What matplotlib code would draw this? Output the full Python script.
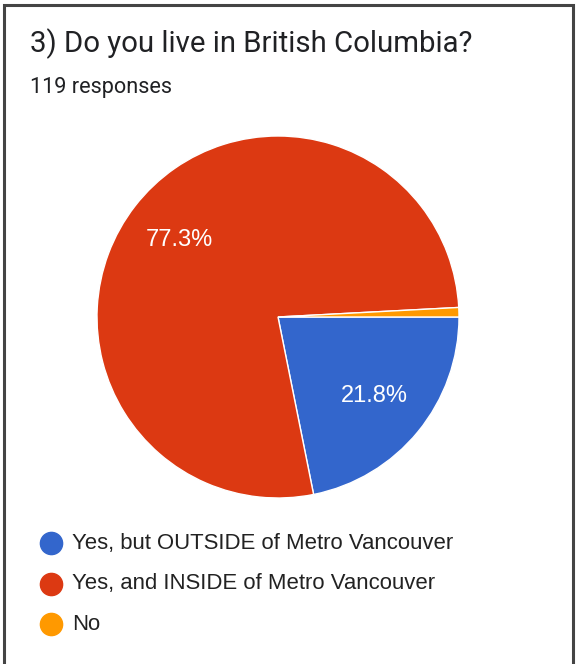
import matplotlib.pyplot as plt
from matplotlib.lines import Line2D
from matplotlib.patches import Rectangle

# data
labels = ['Yes, but OUTSIDE of Metro Vancouver', 'Yes, and INSIDE of Metro Vancouver', 'No']
counts = [26, 92, 1]
colors = ['#3366cc', '#dc3912', '#ff9900']

W, H = 577, 664
fig = plt.figure(figsize=(W / 100, H / 100), dpi=100)
fig.patch.set_facecolor('white')

# frame around the card
fig.add_artist(Rectangle((4 / W, -0.01), 569 / W, 1 - 5 / H + 0.01, transform=fig.transFigure,
                         fill=False, edgecolor='#444444', linewidth=2.2))

fig.text(30 / W, 1 - 44 / H, '3) Do you live in British Columbia?', fontsize=21.2,
         family='Roboto', color='#202124', va='center')
fig.text(30 / W, 1 - 87 / H, '119 responses', fontsize=15.6, family='Roboto',
         color='#202124', va='center')

# pie axes, centre approx (278, 317) px, radius 181 px
cx, cy, r = 278, 317, 181
ax = fig.add_axes([(cx - r) / W, (H - cy - r) / H, 2 * r / W, 2 * r / H])


def pct(p):
    return '%.1f%%' % p if p > 5 else ''


wedges, texts, autotexts = ax.pie(counts, colors=colors, startangle=0, counterclock=False,
                                  autopct=pct, pctdistance=0.69,
                                  wedgeprops=dict(edgecolor='white', linewidth=1),
                                  textprops=dict(color='white', fontsize=17, family='Liberation Sans'))
ax.set_xlim(-1, 1)
ax.set_ylim(-1, 1)
ax.set_aspect('equal')
ax.axis('off')

# legend
for i, (lab, col) in enumerate(zip(labels, colors)):
    y = 1 - (543 + 40.5 * i) / H
    fig.add_artist(Line2D([51 / W], [y], marker='o', markersize=16, color=col,
                          linestyle='none', transform=fig.transFigure))
    fig.text(72 / W, y, lab, fontsize=15.9, family='Liberation Sans', color='#222222', va='center')

plt.savefig('out.png', dpi=100)
